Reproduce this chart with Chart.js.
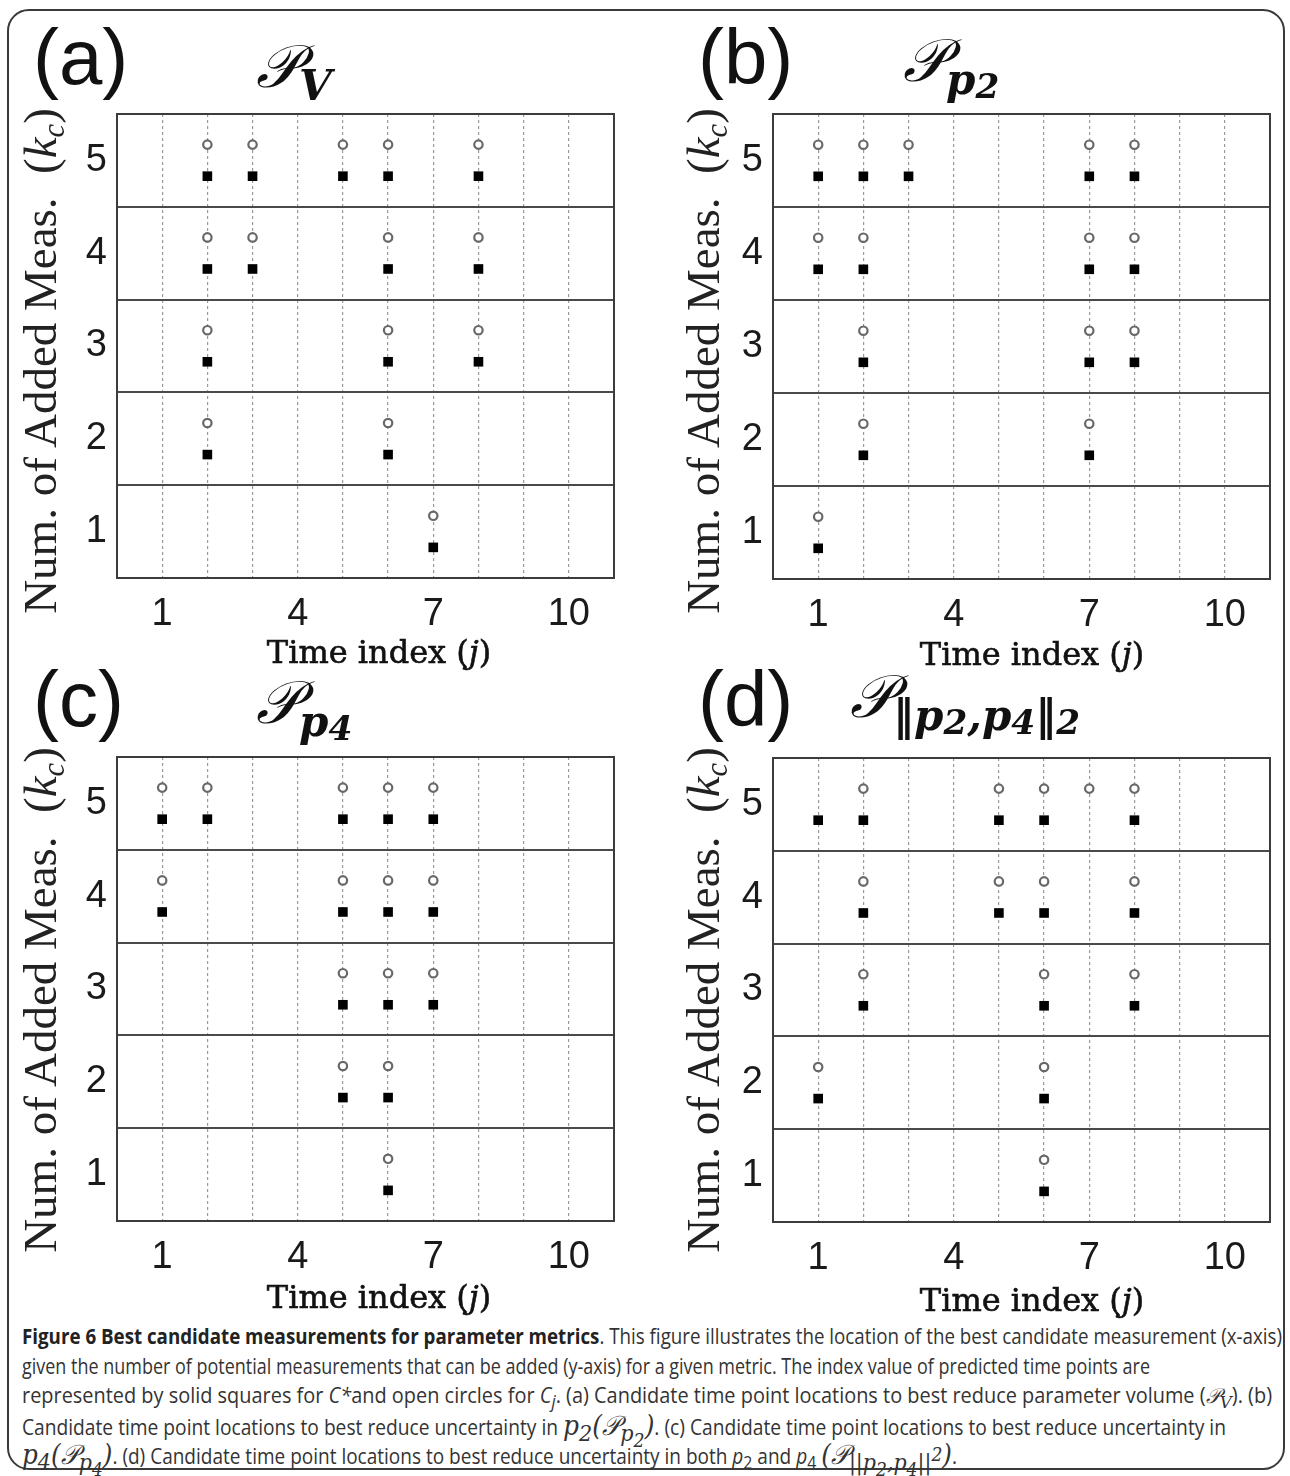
<!DOCTYPE html>
<html>
<head>
<meta charset="utf-8">
<script src="https://cdn.jsdelivr.net/npm/chart.js@4.4.1/dist/chart.umd.min.js"></script>
<style>
  body { margin: 0; background: #fff; }
  #fig { position: relative; width: 1290px; height: 1476px; overflow: hidden; background: #fff; }
  .frame { position: absolute; left: 7px; top: 9px; width: 1274px; height: 1457px; border: 2px solid #3a3a3a; border-radius: 22px; }
  .pane { position: absolute; }
  .letter { position: absolute; font-family: "Liberation Sans", Arial, sans-serif; font-size: 78px; line-height: 1; color: #111; }
  .ttl { position: absolute; font-family: "DejaVu Serif", serif; font-style: italic; font-size: 60px; line-height: 1; color: #111; white-space: nowrap; }
  .ttl sub { font-size: 0.7em; font-weight: bold; vertical-align: -0.3em; }
  .ttl sub sub { font-size: 0.82em; vertical-align: -0.12em; }
  .ylab { position: absolute; width: 640px; height: 54px; margin-left: -320px; margin-top: -27px; text-align: center; transform: rotate(-90deg);
          font-family: "Liberation Serif", "DejaVu Serif", serif; font-size: 47px; line-height: 54px; color: #222; white-space: nowrap; }
  .ylab sub { font-size: 0.65em; vertical-align: -0.25em; line-height: 0; }
  .xlab { position: absolute; width: 400px; margin-left: -200px; margin-top: -20px; text-align: center;
          font-family: "DejaVu Serif", serif; font-size: 32px; line-height: 40px; color: #111; white-space: nowrap;
          -webkit-text-stroke: 0.6px #111; }
  .cap { position: absolute; left: 22px; width: 1262px; font-family: "Open Sans", sans-serif; font-size: 21px; color: #333; }
  .cap div { white-space: nowrap; height: 29.5px; line-height: 29.5px; }
  .cap span.ln { display: inline-block; transform-origin: 0 50%; }
  .cap b { color: #222; }
  .cap sub, .cap sup { line-height: 0; }
  .m { font-family: "DejaVu Serif", serif; font-style: italic; }
  .big { font-size: 1.3em; }
</style>
</head>
<body>
<div id="fig">
  <div class="frame"></div>
</div>
<script>
// time indices (x) of the best candidate for each number of added measurements k = 1..5
const kLevels = [1, 2, 3, 4, 5];
const xTickLabels = [1, 4, 7, 10];
const xGridValues = [1, 2, 3, 4, 5, 6, 7, 8, 9, 10];
const yTickLabels = [1, 2, 3, 4, 5];
const rowBreaks = [1.5, 2.5, 3.5, 4.5];

// (a) P_V
const aSquares = [[7], [2, 6], [2, 6, 8], [2, 3, 6, 8], [2, 3, 5, 6, 8]];
const aCircles = [[7], [2, 6], [2, 6, 8], [2, 3, 6, 8], [2, 3, 5, 6, 8]];
// (b) P_p2
const bSquares = [[1], [2, 7], [2, 7, 8], [1, 2, 7, 8], [1, 2, 3, 7, 8]];
const bCircles = [[1], [2, 7], [2, 7, 8], [1, 2, 7, 8], [1, 2, 3, 7, 8]];
// (c) P_p4
const cSquares = [[6], [5, 6], [5, 6, 7], [1, 5, 6, 7], [1, 2, 5, 6, 7]];
const cCircles = [[6], [5, 6], [5, 6, 7], [1, 5, 6, 7], [1, 2, 5, 6, 7]];
// (d) P_||p2,p4||2
const dSquares = [[6], [1, 6], [2, 6, 8], [2, 5, 6, 8], [1, 2, 5, 6, 8]];
const dCircles = [[6], [1, 6], [2, 6, 8], [2, 5, 6, 8], [2, 5, 6, 7, 8]];

// layout of the four panels (plot area in page pixels)
const panels = [
  { id: "a", squares: aSquares, circles: aCircles, L: 117, T: 114, R: 614, B: 578,
    letter: [33, 18], title: [256, 36, '𝒫<sub>V</sub>'], ylab: [40, 361], xlab: [379, 652] },
  { id: "b", squares: bSquares, circles: bCircles, L: 773, T: 114, R: 1270, B: 579,
    letter: [698, 18], title: [903, 30, '𝒫<sub>p<sub>2</sub></sub>'], ylab: [703, 361], xlab: [1032, 654] },
  { id: "c", squares: cSquares, circles: cCircles, L: 117, T: 757, R: 614, B: 1221,
    letter: [33, 660], title: [256, 672, '𝒫<sub>p<sub>4</sub></sub>'], ylab: [40, 1000], xlab: [379, 1297] },
  { id: "d", squares: dSquares, circles: dCircles, L: 773, T: 758, R: 1270, B: 1222,
    letter: [698, 660], title: [850, 666, '𝒫<sub>‖p<sub>2</sub>,p<sub>4</sub>‖<sub>2</sub></sub>'], ylab: [703, 1000], xlab: [1032, 1300] }
];

const SQUARE_SHIFT = -0.17;
const CIRCLE_SHIFT = 0.17;

function toPoints(rows, shift) {
  const pts = [];
  rows.forEach((xs, i) => {
    xs.forEach((x) => pts.push({ x: x, y: kLevels[i] + shift }));
  });
  return pts;
}

const framePlugin = {
  id: "frame",
  afterDraw(chart) {
    const a = chart.chartArea;
    const ctx = chart.ctx;
    ctx.save();
    ctx.strokeStyle = "#3c3c3c";
    ctx.lineWidth = 2;
    ctx.strokeRect(a.left, a.top, a.right - a.left, a.bottom - a.top);
    ctx.restore();
  },
};

const fig = document.getElementById("fig");
const PAD_L = 70, PAD_T = 10, PAD_R = 10, PAD_B = 70;

panels.forEach((p) => {
  const w = p.R - p.L + PAD_L + PAD_R;
  const h = p.B - p.T + PAD_T + PAD_B;
  const box = document.createElement("div");
  box.className = "pane";
  box.style.left = (p.L - PAD_L) + "px";
  box.style.top = (p.T - PAD_T) + "px";
  box.style.width = w + "px";
  box.style.height = h + "px";
  const canvas = document.createElement("canvas");
  canvas.width = w;
  canvas.height = h;
  box.appendChild(canvas);
  fig.appendChild(box);

  // text around the plot
  const letter = document.createElement("div");
  letter.className = "letter";
  letter.style.left = p.letter[0] + "px";
  letter.style.top = p.letter[1] + "px";
  letter.textContent = "(" + p.id + ")";
  fig.appendChild(letter);

  const ttl = document.createElement("div");
  ttl.className = "ttl";
  ttl.style.left = p.title[0] + "px";
  ttl.style.top = p.title[1] + "px";
  ttl.innerHTML = p.title[2];
  fig.appendChild(ttl);

  const ylab = document.createElement("div");
  ylab.className = "ylab";
  ylab.style.left = p.ylab[0] + "px";
  ylab.style.top = p.ylab[1] + "px";
  ylab.innerHTML = 'Num. of Added Meas. &nbsp;(<i>k</i><sub><i>c</i></sub>)';
  fig.appendChild(ylab);

  const xlab = document.createElement("div");
  xlab.className = "xlab";
  xlab.style.left = p.xlab[0] + "px";
  xlab.style.top = p.xlab[1] + "px";
  xlab.innerHTML = 'Time index (<i>j</i>)';
  fig.appendChild(xlab);

  new Chart(canvas.getContext("2d"), {
    type: "scatter",
    data: {
      datasets: [
        {
          label: "C*",
          data: toPoints(p.squares, SQUARE_SHIFT),
          pointStyle: "rect",
          pointRadius: 6.8,
          backgroundColor: "#000",
          borderColor: "#000",
          borderWidth: 0,
        },
        {
          label: "Cj",
          data: toPoints(p.circles, CIRCLE_SHIFT),
          pointStyle: "circle",
          pointRadius: 4.2,
          backgroundColor: "#fff",
          borderColor: "#686868",
          borderWidth: 2.2,
        },
      ],
    },
    options: {
      responsive: false,
      animation: false,
      events: [],
      layout: { padding: { top: PAD_T, right: PAD_R, left: 0, bottom: 0 } },
      plugins: { legend: { display: false }, tooltip: { enabled: false } },
      scales: {
        x: {
          type: "linear",
          min: 0,
          max: 11,
          afterBuildTicks: (axis) => { axis.ticks = xGridValues.map((v) => ({ value: v })); },
          afterFit: (axis) => { axis.height = PAD_B; axis.paddingLeft = 0; axis.paddingRight = 0; },
          grid: { color: "#9a9a9a", lineWidth: 1.2, drawTicks: false },
          border: { display: false, dash: [3, 3] },
          ticks: {
            autoSkip: false,
            maxRotation: 0,
            padding: 14,
            color: "#1a1a1a",
            font: { family: "Liberation Sans", size: 38 },
            callback: (v) => (xTickLabels.includes(v) ? String(v) : ""),
          },
        },
        y: {
          type: "linear",
          min: 0.5,
          max: 5.5,
          afterBuildTicks: (axis) => {
            axis.ticks = yTickLabels.concat(rowBreaks).sort((a, b) => a - b).map((v) => ({ value: v }));
          },
          afterFit: (axis) => { axis.width = PAD_L; axis.paddingTop = 0; axis.paddingBottom = 0; },
          grid: {
            drawTicks: false,
            lineWidth: 2,
            color: (ctx) => (ctx.tick && rowBreaks.includes(ctx.tick.value) ? "#4a4a4a" : "rgba(0,0,0,0)"),
          },
          border: { display: false },
          ticks: {
            autoSkip: false,
            padding: 10,
            color: "#1a1a1a",
            font: { family: "Liberation Sans", size: 38 },
            callback: (v) => (yTickLabels.includes(v) ? String(v) : ""),
          },
        },
      },
    },
    plugins: [framePlugin],
  });
});

// caption, one div per line as in the printed figure
const capLines = [
  ['<b>Figure 6 Best candidate measurements for parameter metrics</b>. This figure illustrates the location of the best candidate measurement (x-axis)', 1260],
  ['given the number of potential measurements that can be added (y-axis) for a given metric. The index value of predicted time points are', 1128],
  ['represented by solid squares for <i>C*</i>and open circles for <i>C<sub>j</sub></i>. (a) Candidate time point locations to best reduce parameter volume (<span class="m">𝒫<sub>V</sub></span>). (b)', 1250],
  ['Candidate time point locations to best reduce uncertainty in <span class="m big">p<sub>2</sub>(𝒫<sub>p<sub>2</sub></sub>)</span>. (c) Candidate time point locations to best reduce uncertainty in', 1204],
  ['<span class="m big">p<sub>4</sub>(𝒫<sub>p<sub>4</sub></sub>)</span>. (d) Candidate time point locations to best reduce uncertainty in both <i>p</i><sub>2</sub> and <i>p</i><sub>4</sub> <span class="m big">(𝒫<sub>||p<sub>2</sub>,p<sub>4</sub>||<sup>2</sup></sub>)</span>.', 935],
];
const cap = document.createElement("div");
cap.className = "cap";
cap.style.top = "1322px";
fig.appendChild(cap);
capLines.forEach(([html, target]) => {
  const row = document.createElement("div");
  const ln = document.createElement("span");
  ln.className = "ln";
  ln.innerHTML = html;
  row.appendChild(ln);
  cap.appendChild(row);
  const w = ln.getBoundingClientRect().width;
  ln.style.transform = "scaleX(" + (target / w).toFixed(4) + ")";
});
</script>
</body>
</html>
